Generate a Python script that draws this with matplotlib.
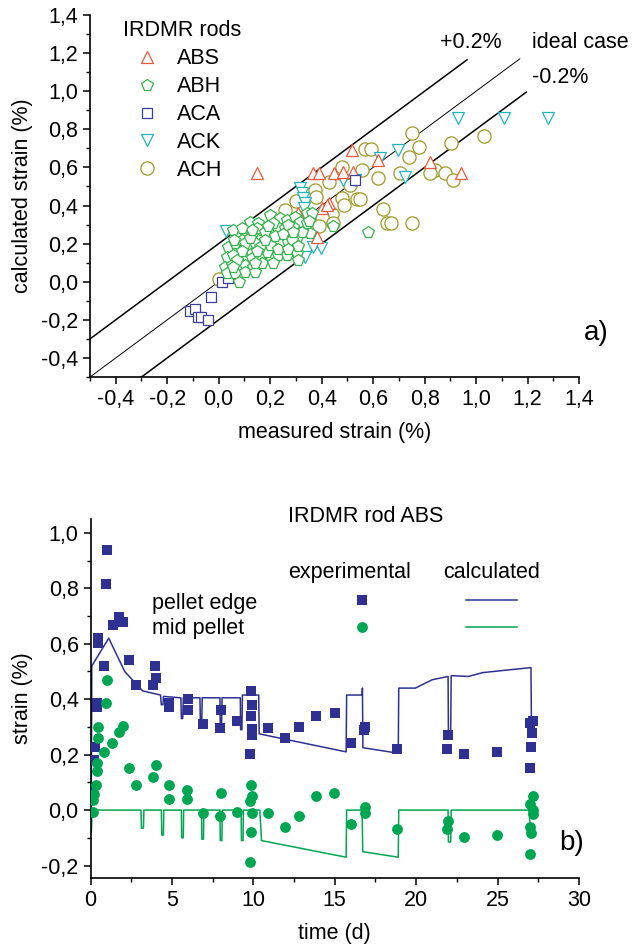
import matplotlib
matplotlib.use("Agg")
import matplotlib.pyplot as plt
from matplotlib.ticker import MultipleLocator, FuncFormatter
from matplotlib.lines import Line2D

plt.rcParams['font.family'] = ['Liberation Sans', 'DejaVu Sans']
FS = 15.5
plt.rcParams['font.size'] = FS

# ---------- panel a) : calculated vs measured strain (%) ----------
abs_x = [0.149, 0.366, 0.390, 0.448, 0.483, 0.522, 0.518, 0.619, 0.821, 0.941,
         0.429, 0.401, 0.382, 0.308, 0.343, 0.316, 0.421, 0.265, 0.219]
abs_y = [0.571, 0.571, 0.571, 0.571, 0.576, 0.576, 0.691, 0.639, 0.628, 0.571,
         0.413, 0.387, 0.235, 0.361, 0.350, 0.298, 0.403, 0.203, 0.298]

abh_x = [0.122, 0.153, 0.199, 0.238, 0.265, 0.296, 0.316, 0.343, 0.362, 0.075,
         0.102, 0.129, 0.168, 0.192, 0.226, 0.258, 0.289, 0.335, 0.355, 0.444,
         0.036, 0.063, 0.091, 0.110, 0.141, 0.172, 0.207, 0.238, 0.269, 0.304,
         0.324, 0.032, 0.056, 0.083, 0.110, 0.129, 0.160, 0.199, 0.230, 0.265,
         0.304, 0.308, 0.024, 0.052, 0.075, 0.102, 0.133, 0.168, 0.188, 0.032,
         0.063, 0.102, 0.141, 0.079, 0.581, 0.056, 0.149, 0.180, 0.160, 0.102,
         0.071, 0.129, 0.199, 0.285, 0.269, 0.343, 0.211, 0.056, 0.22, 0.25,
         0.12, 0.18, 0.21, 0.14, 0.09, 0.06, 0.15, 0.23, 0.27, 0.29, 0.19,
         0.13, 0.35, 0.09, 0.31]
abh_y = [0.313, 0.308, 0.350, 0.334, 0.324, 0.340, 0.313, 0.361, 0.361, 0.261,
         0.256, 0.245, 0.271, 0.261, 0.287, 0.282, 0.287, 0.261, 0.256, 0.292,
         0.182, 0.203, 0.219, 0.182, 0.203, 0.182, 0.177, 0.203, 0.208, 0.229,
         0.261, 0.130, 0.140, 0.114, 0.130, 0.151, 0.124, 0.140, 0.140, 0.140,
         0.151, 0.114, 0.077, 0.088, 0.077, 0.088, 0.077, 0.098, 0.156, 0.046,
         0.046, 0.051, 0.051, -0.002, 0.261, 0.271, 0.282, 0.261, 0.182, 0.203,
         0.114, 0.124, 0.193, 0.219, 0.298, 0.308, 0.308, 0.077, 0.24, 0.25,
         0.23, 0.22, 0.10, 0.10, 0.16, 0.22, 0.16, 0.17, 0.17, 0.26, 0.29,
         0.27, 0.32, 0.28, 0.19]

aca_x = [-0.111, -0.092, -0.080, -0.069, -0.042, -0.030, 0.013, 0.036, 0.530]
aca_y = [-0.154, -0.143, -0.185, -0.185, -0.201, -0.080, -0.002, 0.019, 0.534]

ack_x = [0.028, 0.316, 0.324, 0.328, 0.335, 0.331, 0.483, 0.530, 0.627, 0.697,
         0.724, 0.930, 1.108, 1.279, 0.335, 0.397, 0.366, 0.289]
ack_y = [0.266, 0.492, 0.466, 0.439, 0.413, 0.387, 0.534, 0.534, 0.649, 0.691,
         0.550, 0.859, 0.859, 0.859, 0.130, 0.177, 0.182, 0.313]

ach_x = [0.751, 0.568, 0.592, 0.778, 0.739, 0.902, 1.031, 0.479, 0.557, 0.429,
         0.510, 0.619, 0.704, 0.840, 0.879, 0.910, 0.821, 0.374, 0.378, 0.479,
         0.537, 0.549, 0.487, 0.638, 0.300, 0.258, 0.417, 0.440, 0.401, 0.390,
         0.444, 0.654, 0.669, 0.751, 0.001]
ach_y = [0.781, 0.697, 0.697, 0.707, 0.655, 0.728, 0.765, 0.602, 0.586, 0.523,
         0.508, 0.544, 0.571, 0.586, 0.571, 0.534, 0.571, 0.481, 0.445, 0.439,
         0.434, 0.434, 0.403, 0.382, 0.424, 0.376, 0.376, 0.355, 0.340, 0.292,
         0.308, 0.308, 0.308, 0.308, 0.014]

rod_names = ['ABS', 'ABH', 'ACA', 'ACK', 'ACH']
rod_markers = ['^', 'p', 's', 'v', 'o']
rod_colors = ['#f0583a', '#34b44c', '#3a3f9e', '#20b4bf', '#9d9a24']

# +0.2 %, ideal, -0.2 % lines : y = x + offset, drawn between x_start and x_end
band_offset = [0.2, 0.0, -0.2]
band_start = [-0.5, -0.5, -0.3]
band_end = [0.965, 1.17, 1.195]
band_width = [1.1, 0.7, 1.1]

# ---------- panel b) : IRDMR rod ABS, strain vs time ----------
edge_t = [1.00, 0.94, 1.37, 1.74, 1.99, 0.45, 0.45, 0.82, 2.35, 3.95, 4.01, 3.83,
          2.78, 0.39, 0.39, 4.81, 4.81, 5.98, 5.98, 6.90, 8.01, 7.95, 8.99, 9.85,
          9.91, 9.85, 9.91, 9.91, 9.79, 10.90, 11.94, 12.80, 13.85, 15.02, 16.00,
          16.86, 16.80, 0.26, 0.20, 0.14, 18.82, 21.96, 21.90, 22.95, 24.97,
          27.00, 27.18, 27.12, 27.06, 27.00]
edge_y = [0.939, 0.817, 0.669, 0.698, 0.680, 0.619, 0.601, 0.518, 0.540, 0.518,
          0.478, 0.453, 0.453, 0.388, 0.371, 0.388, 0.371, 0.399, 0.360, 0.309,
          0.360, 0.295, 0.320, 0.428, 0.378, 0.338, 0.291, 0.270, 0.201, 0.295,
          0.259, 0.299, 0.338, 0.349, 0.241, 0.299, 0.288, 0.227, 0.180, 0.061,
          0.219, 0.270, 0.219, 0.201, 0.209, 0.313, 0.320, 0.277, 0.227, 0.151]

mid_t = [1.00, 0.94, 0.45, 0.45, 1.99, 1.74, 1.31, 0.82, 0.39, 0.39, 0.33, 0.20,
         0.14, 0.14, 2.35, 4.01, 3.83, 2.78, 4.81, 4.81, 5.92, 5.92, 8.01, 6.90,
         7.95, 8.99, 9.85, 9.91, 9.79, 9.91, 9.85, 9.79, 10.90, 11.94, 12.80,
         13.85, 14.96, 16.00, 16.86, 16.86, 18.82, 21.96, 21.90, 22.95, 24.97,
         27.18, 27.00, 27.18, 27.18, 27.00, 27.06, 27.00]
mid_y = [0.471, 0.388, 0.299, 0.259, 0.302, 0.281, 0.241, 0.209, 0.169, 0.140,
         0.090, 0.058, 0.036, -0.007, 0.151, 0.162, 0.119, 0.090, 0.090, 0.040,
         0.072, 0.040, 0.061, -0.011, -0.022, -0.007, 0.090, 0.050, 0.032, -0.011,
         -0.079, -0.187, -0.011, -0.061, -0.022, 0.050, 0.061, -0.050, 0.011,
         -0.011, -0.068, -0.040, -0.068, -0.097, -0.090, 0.050, 0.022, 0.000,
         -0.014, -0.061, -0.083, -0.158]

calc_edge_t = [0.05, 0.08, 1.12, 2.10, 3.20, 4.30, 4.35, 4.45, 4.48, 5.55, 5.58,
               5.66, 5.70, 6.72, 6.75, 6.83, 6.86, 7.95, 7.97, 8.05, 8.08, 9.20,
               9.22, 9.30, 9.33, 10.33, 10.36, 15.70, 15.73, 16.68, 16.70, 16.73,
               18.90, 18.93, 19.95, 20.98, 21.96, 21.98, 22.12, 22.15, 23.20,
               24.10, 27.05, 27.08]
calc_edge_y = [0.06, 0.52, 0.62, 0.50, 0.43, 0.415, 0.38, 0.38, 0.41, 0.405, 0.33,
               0.33, 0.405, 0.405, 0.31, 0.31, 0.405, 0.405, 0.30, 0.30, 0.405,
               0.405, 0.29, 0.29, 0.415, 0.415, 0.275, 0.21, 0.415, 0.415, 0.44,
               0.225, 0.205, 0.44, 0.44, 0.47, 0.482, 0.28, 0.28, 0.485, 0.482,
               0.496, 0.514, 0.30]

calc_mid_t = [0.05, 0.10, 3.10, 3.13, 3.25, 3.28, 4.35, 4.38, 4.48, 4.50, 5.58,
              5.60, 5.70, 5.72, 6.82, 6.84, 6.94, 6.96, 7.95, 7.97, 8.07, 8.09,
              9.25, 9.27, 9.37, 9.39, 10.40, 10.50, 15.70, 15.73, 16.68, 16.72,
              18.90, 18.93, 21.96, 21.98, 22.12, 22.15, 26.95, 27.00]
calc_mid_y = [-0.08, 0.0, 0.0, -0.065, -0.065, 0.0, 0.0, -0.09, -0.09, 0.0, 0.0,
              -0.10, -0.10, 0.0, 0.0, -0.105, -0.105, 0.0, 0.0, -0.11, -0.11, 0.0,
              0.0, -0.11, -0.11, 0.0, 0.0, -0.11, -0.17, 0.0, 0.0, -0.15, -0.17,
              0.0, 0.0, -0.115, -0.115, 0.0, 0.0, -0.06]

edge_color = '#2e3192'
mid_color = '#00a651'


def comma(v, pos):
    return ('%.1f' % v).replace('.', ',')


def style_axes(ax):
    for s in ['top', 'right']:
        ax.spines[s].set_visible(False)
    for s in ['left', 'bottom']:
        ax.spines[s].set_linewidth(1.2)
    ax.tick_params(which='major', direction='out', length=5, width=1.1, labelsize=FS)
    ax.tick_params(which='minor', direction='out', length=3, width=1.0)


fig = plt.figure(figsize=(6.33, 9.49), dpi=100)

# panel a
ax1 = fig.add_axes([90 / 633, 1 - 377 / 949, 489 / 633, 362 / 949])
style_axes(ax1)
rod_x = [abs_x, abh_x, aca_x, ack_x, ach_x]
rod_y = [abs_y, abh_y, aca_y, ack_y, ach_y]
rod_z = [4, 6, 5, 3, 2]
rod_ms = [8.5, 8.5, 6.5, 8.5, 9.5]
for name, mk, col, xs, ys, z, ms in zip(rod_names, rod_markers, rod_colors, rod_x, rod_y, rod_z, rod_ms):
    ax1.plot(xs, ys, ls='none', marker=mk, ms=ms, mfc='white', mec=col, mew=0.9,
             label=name, zorder=z)

for off, x0, x1, lw in zip(band_offset, band_start, band_end, band_width):
    ax1.plot([x0, x1], [x0 + off, x1 + off], color='black', lw=lw, zorder=1)

ax1.set_xlim(-0.5, 1.4)
ax1.set_ylim(-0.5, 1.4)
ax1.xaxis.set_minor_locator(MultipleLocator(0.1))
ax1.yaxis.set_minor_locator(MultipleLocator(0.1))
ax1.set_xticks([-0.4, -0.2, 0.0, 0.2, 0.4, 0.6, 0.8, 1.0, 1.2, 1.4])
ax1.set_yticks([-0.4, -0.2, 0.0, 0.2, 0.4, 0.6, 0.8, 1.0, 1.2, 1.4])
ax1.xaxis.set_major_formatter(FuncFormatter(comma))
ax1.yaxis.set_major_formatter(FuncFormatter(comma))
ax1.set_xlabel('measured strain (%)', fontsize=FS, labelpad=9)
ax1.set_ylabel('calculated strain (%)', fontsize=FS, labelpad=6)

ax1.legend(loc='upper left', bbox_to_anchor=(0.067, 0.985), frameon=False,
           title='IRDMR rods', title_fontsize=FS, fontsize=FS, numpoints=1,
           handlelength=2.23, handletextpad=0.28, labelspacing=0.32,
           borderpad=0, borderaxespad=0, alignment='left')

ax1.text(0.716, 0.923, '+0.2%', transform=ax1.transAxes, fontsize=FS, va='center')
ax1.text(0.904, 0.923, 'ideal case', transform=ax1.transAxes, fontsize=FS, va='center')
ax1.text(0.904, 0.826, '-0.2%', transform=ax1.transAxes, fontsize=FS, va='center')
ax1.text(1.035, 0.122, 'a)', transform=ax1.transAxes, fontsize=20, ha='center',
         va='center', clip_on=False)

# panel b
ax2 = fig.add_axes([90.5 / 633, 1 - 878 / 949, 488.5 / 633, 359 / 949])
style_axes(ax2)
ax2.plot(calc_edge_t, calc_edge_y, color=edge_color, lw=1.1, zorder=2)
ax2.plot(calc_mid_t, calc_mid_y, color=mid_color, lw=1.1, zorder=2)
ax2.plot(edge_t, edge_y, ls='none', marker='s', ms=6.8, color=edge_color, mew=0, zorder=3)
ax2.plot(mid_t, mid_y, ls='none', marker='o', ms=7.8, color=mid_color, mew=0, zorder=3)

ax2.set_xlim(0, 30)
ax2.set_ylim(-0.245, 1.05)
ax2.xaxis.set_major_locator(MultipleLocator(5))
ax2.xaxis.set_minor_locator(MultipleLocator(2.5))
ax2.set_yticks([-0.2, 0.0, 0.2, 0.4, 0.6, 0.8, 1.0])
ax2.yaxis.set_minor_locator(MultipleLocator(0.1))
ax2.yaxis.set_major_formatter(FuncFormatter(comma))
ax2.set_xlabel('time (d)', fontsize=FS, labelpad=9)
ax2.set_ylabel('strain (%)', fontsize=FS, labelpad=6)

ax2.text(0.564, 1.006, 'IRDMR rod ABS', transform=ax2.transAxes, fontsize=FS,
         ha='center', va='center')
ax2.text(0.531, 0.852, 'experimental', transform=ax2.transAxes, fontsize=FS,
         ha='center', va='center')
ax2.text(0.822, 0.852, 'calculated', transform=ax2.transAxes, fontsize=FS,
         ha='center', va='center')
ax2.text(0.126, 0.766, 'pellet edge', transform=ax2.transAxes, fontsize=FS, va='center')
ax2.text(0.126, 0.696, 'mid pellet', transform=ax2.transAxes, fontsize=FS, va='center')
ax2.text(0.984, 0.097, 'b)', transform=ax2.transAxes, fontsize=20, ha='center',
         va='center', clip_on=False)

exp_handles = [Line2D([], [], ls='none', marker='s', ms=6.8, color=edge_color, mew=0),
               Line2D([], [], ls='none', marker='o', ms=7.8, color=mid_color, mew=0)]
calc_handles = [Line2D([], [], color=edge_color, lw=1.1),
                Line2D([], [], color=mid_color, lw=1.1)]
leg_exp = ax2.legend(exp_handles, ['', ''], loc='center', bbox_to_anchor=(0.555, 0.731),
                     frameon=False, fontsize=FS, handlelength=0.8, handletextpad=0,
                     labelspacing=0.3, borderpad=0, borderaxespad=0)
ax2.add_artist(leg_exp)
ax2.legend(calc_handles, ['', ''], loc='center', bbox_to_anchor=(0.82, 0.731),
           frameon=False, fontsize=FS, handlelength=2.37, handletextpad=0,
           labelspacing=0.3, borderpad=0, borderaxespad=0)

fig.savefig('out.png', dpi=100)
